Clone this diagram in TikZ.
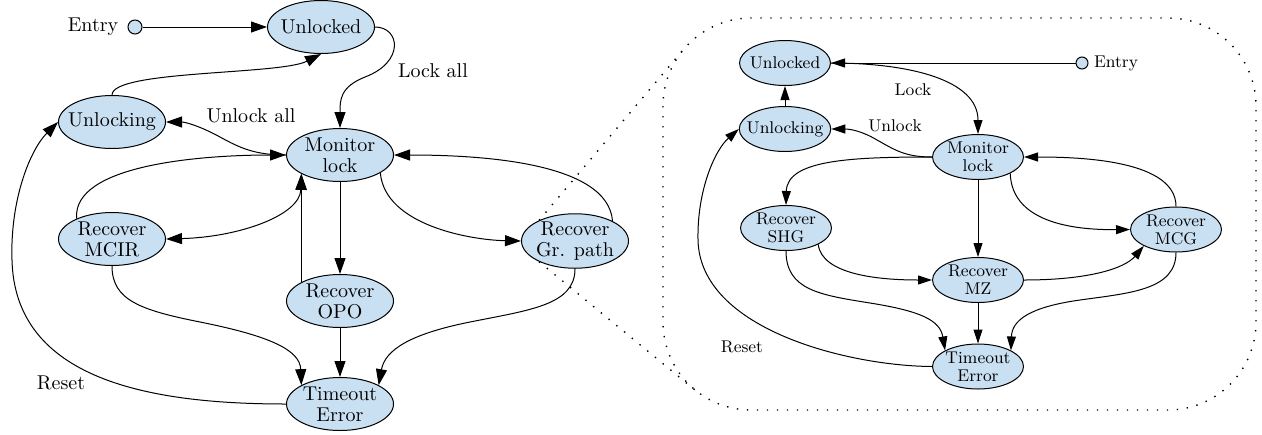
\documentclass[tikz,border=0pt]{standalone}
\usepackage{amsmath}
\usepackage{tikz}
\usetikzlibrary{shapes.geometric,arrows.meta}
\definecolor{statefill}{RGB}{201,223,242}

\begin{document}
\begin{tikzpicture}[x=0.5pt,y=-0.5pt, line width=0.5pt,
	state/.style={ellipse, draw, fill=statefill, align=center, inner xsep=-4pt, inner ysep=0pt,
		minimum width=53.5pt, minimum height=26.5pt, font=\fontsize{10}{10.5}\selectfont},
	zstate/.style={state, inner xsep=-3pt, minimum width=45.5pt, minimum height=22.5pt,
		font=\fontsize{8.5}{9}\selectfont},
	entrypt/.style={circle, draw, fill=statefill, inner sep=0pt, minimum size=7pt},
	zentrypt/.style={entrypt, minimum size=6pt},
	lbl/.style={inner sep=0pt, font=\fontsize{10}{12}\selectfont},
	zlbl/.style={inner sep=0pt, font=\fontsize{8.5}{10}\selectfont},
	trans/.style={-{Triangle[length=8pt,width=5.5pt]}},
	transboth/.style={{Triangle[length=8pt,width=5.5pt]}-{Triangle[length=8pt,width=5.5pt]}},
	ztrans/.style={-{Triangle[length=7pt,width=4.5pt]}},
	zoomline/.style={line width=0.7pt, dash pattern=on 0.7pt off 4.3pt}]
	\useasboundingbox (0,0) rectangle (1262,434);
	
	% left machine
	\node[entrypt] (entry) at (135,27) {};
	\node[lbl] (entrytxt) at (93,27) {Entry};
	\node[state] (unl) at (321,27) {Unlocked};
	\node[state] (ulk) at (112,122) {Unlocking};
	\node[state] (mon) at (340,155) {Monitor\\lock};
	\node[state] (mcir) at (112,239) {Recover\\MCIR};
	\node[state] (opo) at (340,301) {Recover\\OPO};
	\node[state] (gr) at (575,241) {Recover\\Gr. path};
	\node[state] (to) at (340,404) {Timeout\\Error};
	
	\draw[trans] (entry) -- (unl);
	\draw[trans] (unl.east) .. controls (400,27) and (405,62) .. (365,77) .. controls (340,87) and (340,100) .. (mon.north);
	\node[lbl] (lockall) at (433,71) {Lock all};
	\draw[trans] (mon.west) .. controls (255,155) and (240,148) .. (220,137) .. controls (200,126) and (185,122) .. (ulk.east);
	\node[lbl] (unlockall) at (251,116) {Unlock all};
	\draw[trans] (mcir.150) .. controls (72,165) and (200,155) .. (mon.west);
	\draw[trans] (ulk.north) .. controls (112,70) and (280,75) .. (unl.south);
	\draw[trans] (to.west) .. controls (150,404) and (15,380) .. (12,260) .. controls (10,200) and (30,150) .. (ulk.west);
	\node[lbl] (reset) at (61,383) {Reset};
	\draw[transboth] (mcir.east) .. controls (240,237) and (300,215) .. (mon.206);
	\draw[trans] (opo.154) -- (mon.206);
	\draw[trans] (mon.south) -- (opo.north);
	\draw[trans] (mcir.south) .. controls (112,300) and (140,310) .. (200,322) .. controls (270,336) and (300,350) .. (to.154);
	\draw[trans] (opo.south) -- (to.north);
	\draw[trans] (mon.336) .. controls (385,225) and (470,240) .. (gr.west);
	\draw[trans] (gr.28) .. controls (608,162) and (480,155) .. (mon.east);
	\draw[trans] (gr.south) .. controls (575,305) and (530,310) .. (470,322) .. controls (410,334) and (385,350) .. (to.26);
	
	% zoom frame
	\coordinate (zt) at (683,50);
	\coordinate (zb) at (695,390);
	\draw[zoomline] (gr.150) -- (zt);
	\draw[zoomline] (gr.210) -- (zb);
	\draw[zoomline, rounded corners=44pt] (663,18) rectangle (1256,410);
	
	% zoomed machine
	\node[zentrypt] (zentry) at (1082,63) {};
	\node[zlbl] (zentrytxt) at (1116,63) {Entry};
	\node[zstate] (zunl) at (785,63) {Unlocked};
	\node[zstate] (zulk) at (785,129) {Unlocking};
	\node[zstate] (zmon) at (978,157) {Monitor\\lock};
	\node[zstate] (zshg) at (786,228) {Recover\\SHG};
	\node[zstate] (zmz) at (978,280) {Recover\\MZ};
	\node[zstate] (zmcg) at (1176,229.5) {Recover\\MCG};
	\node[zstate] (zto) at (978,366.5) {Timeout\\Error};
	
	\draw[ztrans] (zentry) -- (zunl);
	\draw[ztrans] (zunl.east) .. controls (910,63) and (978,80) .. (zmon.north);
	\node[zlbl] (zlock) at (913,90) {Lock};
	\draw[ztrans] (zulk) -- (zunl);
	\draw[ztrans] (zmon.west) .. controls (905,157) and (895,150) .. (877,140) .. controls (862,131) and (850,129) .. (zulk.east);
	\node[zlbl] (zunlock) at (895,126) {Unlock};
	\draw[ztrans] (zmon.west) .. controls (850,157) and (787,160) .. (zshg.north);
	\draw[ztrans] (zmon) -- (zmz);
	\draw[ztrans] (zmon.333) .. controls (1012,225) and (1080,230) .. (zmcg.west);
	\draw[ztrans] (zmcg.north) .. controls (1176,160) and (1080,157) .. (zmon.east);
	\draw[ztrans] (zshg.333) .. controls (822,275) and (880,280) .. (zmz.west);
	\draw[ztrans] (zmz.east) .. controls (1090,280) and (1125,268) .. (zmcg.207);
	\draw[ztrans] (zshg.south) .. controls (786,290) and (820,295) .. (870,303) .. controls (920,311) and (940,320) .. (zto.154);
	\draw[ztrans] (zmz) -- (zto);
	\draw[ztrans] (zmcg.south) .. controls (1176,290) and (1130,293) .. (1080,300) .. controls (1030,307) and (1012,320) .. (zto.26);
	\draw[ztrans] (zto.west) .. controls (850,366) and (700,330) .. (698,240) .. controls (697,190) and (715,150) .. (zulk.west);
	\node[zlbl] (zreset) at (742,347) {Reset};
\end{tikzpicture}
\end{document}
